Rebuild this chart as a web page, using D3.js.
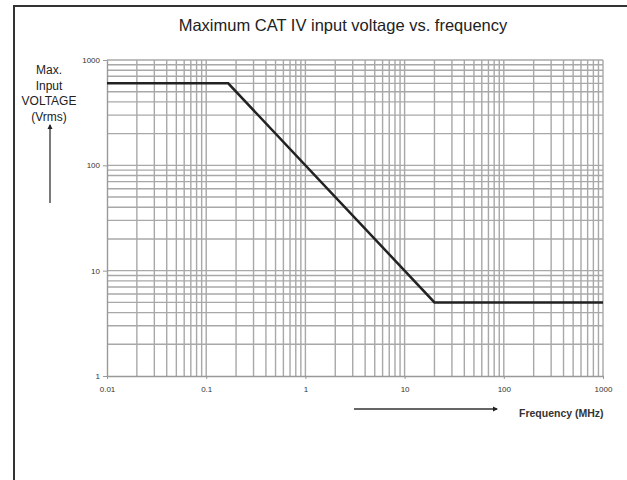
<!DOCTYPE html>
<html><head><meta charset="utf-8">
<script src="https://cdn.jsdelivr.net/npm/d3@7"></script>
<style>body{margin:0;background:#fff}svg{display:block}</style>
</head><body>
<svg id="c" width="627" height="480"></svg>
<script>
const title = "Maximum CAT IV input voltage vs. frequency";
const yLabelLines = ["Max.", "Input", "VOLTAGE", "(Vrms)"];
const xLabel = "Frequency (MHz)";
const freqMHz = [0.01, 0.1667, 20, 1000];
const voltageVrms = [600, 600, 5, 5];
const xTickValues = [0.01, 0.1, 1, 10, 100, 1000];
const xTickLabels = ["0.01", "0.1", "1", "10", "100", "1000"];
const yTickValues = [1, 10, 100, 1000];
const yTickLabels = ["1", "10", "100", "1000"];

(function () {
const svg = d3.select("#c");
const font = "Liberation Sans, Arial, sans-serif";
const pL = 107, pR = 603, pT = 60, pB = 376;
const x = d3.scaleLog().domain([0.01, 1000]).range([pL, pR]);
const y = d3.scaleLog().domain([1, 1000]).range([pB, pT]);

svg.append("path").attr("d", "M14,480 L14,6 L640,6").attr("fill", "none")
  .attr("stroke", "#333").attr("stroke-width", 2);

svg.append("text").attr("x", 343).attr("y", 31).attr("text-anchor", "middle")
  .attr("font-family", font).attr("font-size", 16.5).attr("fill", "#222").text(title);

const xGrid = [], yGrid = [];
for (let e = -2; e < 3; e++) for (let m = 1; m < 10; m++) xGrid.push(m * Math.pow(10, e));
xGrid.push(1000);
for (let e = 0; e < 3; e++) for (let m = 1; m < 10; m++) yGrid.push(m * Math.pow(10, e));
yGrid.push(1000);

const g = svg.append("g");
g.selectAll(".vx").data(xGrid.slice(1)).enter().append("line")
  .attr("x1", d => x(d)).attr("x2", d => x(d)).attr("y1", pT).attr("y2", pB)
  .attr("stroke", "#a8a8a8").attr("stroke-width", 1.4);
g.selectAll(".hy").data(yGrid.slice(1)).enter().append("line")
  .attr("x1", pL).attr("x2", pR).attr("y1", d => y(d)).attr("y2", d => y(d))
  .attr("stroke", "#a8a8a8").attr("stroke-width", 1.4);

const xAxis = d3.axisBottom(x).tickValues(xTickValues).tickFormat((d, i) => xTickLabels[i]).tickSize(3).tickSizeOuter(0);
const yAxis = d3.axisLeft(y).tickValues(yTickValues).tickFormat((d, i) => yTickLabels[i]).tickSize(4).tickSizeOuter(0);
const ax = svg.append("g").attr("transform", `translate(0,${pB})`).call(xAxis);
const ay = svg.append("g").attr("transform", `translate(${pL},0)`).call(yAxis);
[ax, ay].forEach(a => {
  a.select(".domain").attr("stroke", "#999").attr("stroke-width", 1.4);
  a.selectAll(".tick line").attr("stroke", "#999");
  a.selectAll("text").attr("font-family", font).attr("font-size", 8).attr("fill", "#333");
});
ax.selectAll("text").attr("dy", "1.3em");
ay.selectAll("text").attr("dy", "0.3em");

svg.append("path").datum(freqMHz.map((f, i) => [f, voltageVrms[i]]))
  .attr("d", d3.line().x(d => x(d[0])).y(d => y(d[1])))
  .attr("fill", "none").attr("stroke", "#222").attr("stroke-width", 2.5);

yLabelLines.forEach((t, i) => {
  svg.append("text").attr("x", 49).attr("y", 74 + i * 15.5).attr("text-anchor", "middle")
    .attr("font-family", font).attr("font-size", 12).attr("fill", "#222").text(t);
});
svg.append("defs").append("marker").attr("id", "ah").attr("viewBox", "0 0 10 10")
  .attr("refX", 8).attr("refY", 5).attr("markerWidth", 4).attr("markerHeight", 4)
  .attr("orient", "auto").append("path").attr("d", "M0,0 L10,5 L0,10 Z").attr("fill", "#222");
svg.append("line").attr("x1", 50).attr("y1", 203).attr("x2", 50).attr("y2", 125)
  .attr("stroke", "#333").attr("stroke-width", 1.3).attr("marker-end", "url(#ah)");
svg.append("line").attr("x1", 354).attr("y1", 409).attr("x2", 497).attr("y2", 409)
  .attr("stroke", "#333").attr("stroke-width", 1.3).attr("marker-end", "url(#ah)");
svg.append("text").attr("x", 519).attr("y", 417)
  .attr("font-family", font).attr("font-size", 10.5).attr("font-weight", "bold").attr("fill", "#333").text(xLabel);
})();
</script>
</body></html>
